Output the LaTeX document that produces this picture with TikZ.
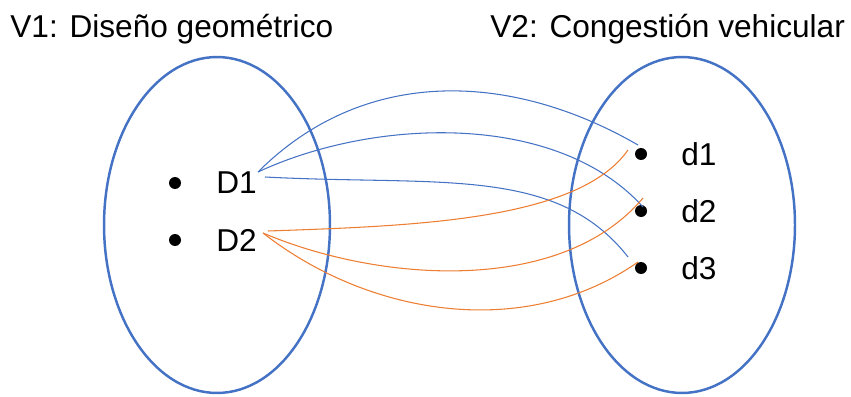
\documentclass[tikz,border=0pt]{standalone}
\usepackage{fontspec}
\setmainfont{Liberation Sans}
\definecolor{azul}{RGB}{68,114,196}
\definecolor{naranja}{RGB}{237,125,49}
\tikzset{
  conjunto/.style={draw=azul, line width=1.4pt},
  punto/.style={circle, fill=black, inner sep=0pt, minimum size=0.24cm},
  etiqueta/.style={anchor=west, inner sep=0pt, font=\fontsize{18}{22}\selectfont},
  titulo/.style={anchor=base west, inner sep=0pt, font=\fontsize{18}{22}\selectfont},
  relA/.style={draw=azul, line width=0.6pt},
  relN/.style={draw=naranja, line width=0.6pt}
}
\begin{document}
\begin{tikzpicture}[x=0.02cm, y=0.02cm]
    \useasboundingbox (0,0) rectangle (851,396);
    % Titulos
    \node[titulo] (t1) at (10,358) {V1: Diseño geométrico};
    \node[titulo] (t2) at (490,358) {V2: Congestión vehicular};
    % Conjuntos
    \draw[conjunto] (217,171) ellipse [x radius=2.26cm, y radius=3.36cm];
    \draw[conjunto] (682,171) ellipse [x radius=2.26cm, y radius=3.36cm];
    % Dimensiones V1
    \node[punto] (p1) at (175,213) {};
    \node[punto] (p2) at (175,156) {};
    \node[etiqueta] (D1) at (216,213) {D1};
    \node[etiqueta] (D2) at (216,156) {D2};
    % Dimensiones V2
    \node[punto] (q1) at (641,242) {};
    \node[punto] (q2) at (641,185) {};
    \node[punto] (q3) at (641,128) {};
    \node[etiqueta] (d1) at (681,242) {d1};
    \node[etiqueta] (d2) at (681,185) {d2};
    \node[etiqueta] (d3) at (681,128) {d3};
    % Extremos de las relaciones
    \coordinate (D1a) at (258,224);
    \coordinate (D1b) at (265,219);
    \coordinate (D2a) at (268,165);
    \coordinate (D2b) at (263,163);
    \coordinate (d1a) at (638,251);
    \coordinate (d1b) at (628,246);
    \coordinate (d2a) at (643,189);
    \coordinate (d2b) at (643,198);
    \coordinate (d3a) at (628,139);
    \coordinate (d3b) at (638,134);
    % Relaciones de D1
    \draw[relA] (D1a) to[out=45, in=150] (d1a);
    \draw[relA] (D1a) to[out=25, in=132, looseness=0.85] (d2a);
    \draw[relA] (D1b) to[out=-3, in=128, out looseness=1.2, in looseness=0.8] (d3a);
    % Relaciones de D2
    \draw[relN] (D2a) to[out=2, in=-125, out looseness=1, in looseness=0.6] (d1b);
    \draw[relN] (D2b) to[out=-23, in=-130, looseness=0.85] (d2b);
    \draw[relN] (D2b) to[out=-38, in=-145, looseness=0.93] (d3b);
\end{tikzpicture}
\end{document}
